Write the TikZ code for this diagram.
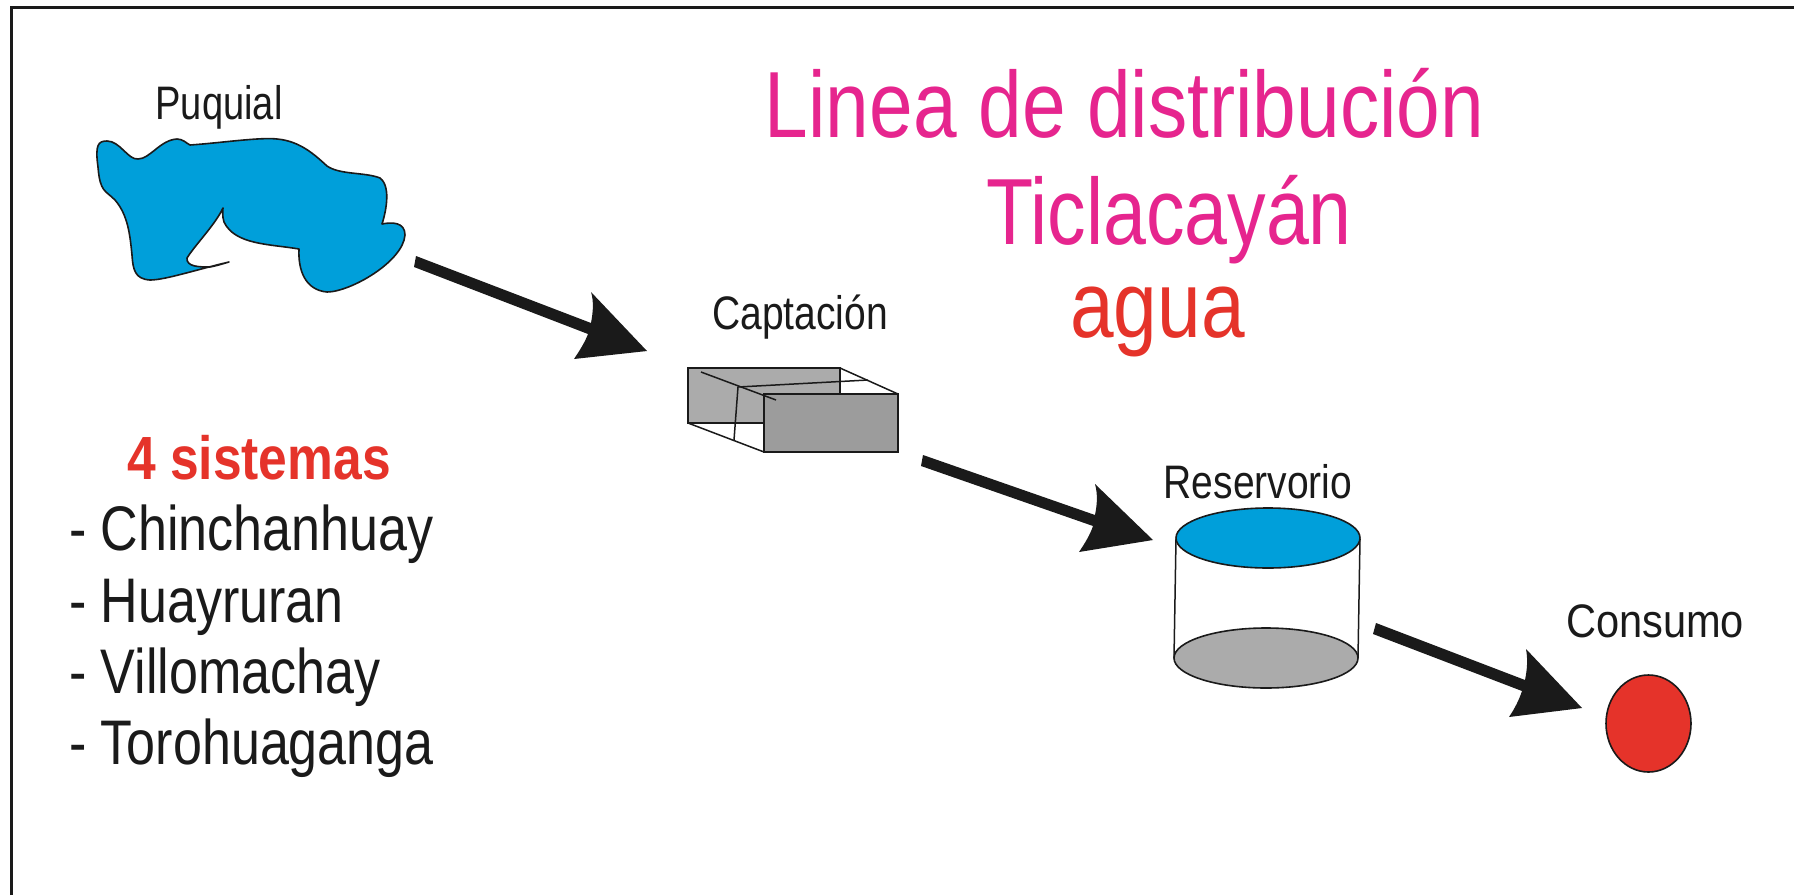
\documentclass[tikz,border=0pt]{standalone}
\usepackage{fontspec}
\setmainfont{Liberation Sans}
\definecolor{blueW}{HTML}{009FDA}
\definecolor{redW}{HTML}{E5332A}
\definecolor{pinkW}{HTML}{E6258E}
\definecolor{darkK}{HTML}{1A1A1A}
\definecolor{greyA}{HTML}{ABABAB}
\definecolor{greyB}{HTML}{9C9C9C}
\tikzset{
  lbl/.style={inner sep=0pt,anchor=base,text=darkK,font=\fontsize{47}{47}\selectfont},
  big/.style={inner sep=0pt,text=darkK,xscale=.826,font=\fontsize{63}{63}\selectfont,anchor=base west},
  title/.style={inner sep=0pt,anchor=base,xscale=.834,font=\fontsize{94}{94}\selectfont},
  outl/.style={draw=darkK,line width=1.6pt,line join=round},
  thin/.style={draw=darkK,line width=1.5pt},
  arrowshape/.style={fill=darkK,draw=none},
}
\begin{document}
\begin{tikzpicture}[x=1pt,y=-1pt]
\useasboundingbox (0,0) rectangle (1794,895);
\fill[white] (0,0) rectangle (1794,895);
\draw[darkK,line width=3pt] (11,895) -- (11,7) -- (1794,7);
% Puquial
\draw[outl,fill=blueW] (98,167)
 .. controls (95,145) and (98,141) .. (107,141)
 .. controls (120,141) and (128,160) .. (138,159)
 .. controls (150,159) and (160,140) .. (177,139)
 .. controls (183,139) and (186,143) .. (190,145)
 .. controls (220,143) and (260,137) .. (277,139)
 .. controls (300,141) and (315,155) .. (327,166)
 .. controls (340,175) and (365,172) .. (380,178)
 .. controls (392,187) and (385,215) .. (382,224)
 .. controls (392,222) and (405,222) .. (405,235)
 .. controls (403,262) and (350,292) .. (327,292)
 .. controls (305,290) and (298,270) .. (299,249)
 .. controls (270,244) and (235,245) .. (224,222)
 .. controls (222,216) and (223,210) .. (223,208)
 .. controls (215,225) and (195,245) .. (187,258)
 .. controls (186,267) and (200,267) .. (210,267)
 .. controls (220,265) and (225,263) .. (229,262)
 .. controls (195,270) and (165,280) .. (150,280)
 .. controls (135,279) and (133,270) .. (132,255)
 .. controls (130,235) and (128,215) .. (115,200)
 .. controls (105,190) and (100,192) .. (98,167) -- cycle;
\node[lbl,xscale=.81] (puq) at (219,119) {Puquial};
% title
\node[title,text=pinkW] (t1) at (1124.5,137) {Linea de distribución};
\node[title,text=pinkW,xscale=.984] (t2) at (1169,244) {Ticlacayán};
\node[title,text=redW] (t3) at (1157.5,337) {agua};
% captacion
\node[lbl,xscale=.83] (cap) at (800,329) {Captación};
\draw[thin,fill=greyA] (688,368) rectangle (840,423);
\fill[white] (688,423) -- (764,452) -- (764,423) -- cycle;
\fill[white] (840,368) -- (898,394) -- (840,394) -- cycle;
\draw[thin] (688,368) rectangle (840,423);
\draw[thin] (688,423) -- (764,452);
\draw[thin] (840,368) -- (898,394);
\draw[thin] (734,440) -- (738,387) -- (868,380);
\draw[thin,fill=greyB] (764,394) rectangle (898,452);
\draw[thin] (701,372) -- (776,400);
% reservorio
\node[lbl,xscale=.83] (res) at (1258,498) {Reservorio};
\draw[thin] (1176,539) -- (1174,658) (1360,539) -- (1358,658);
\draw[outl,fill=greyA] (1266,658) ellipse [x radius=92,y radius=30];
\draw[outl,fill=blueW] (1268,538) ellipse [x radius=92,y radius=30];
% consumo
\node[lbl,xscale=.885] (con) at (1655,637) {Consumo};
\draw[outl,fill=redW] (1648.5,723.5) ellipse [x radius=42.5,y radius=48.5];
% arrows
\fill[arrowshape] (416,256) -- (591,323) .. controls (593,312) and (594,302) .. (591,292) -- (647,351) -- (574,359) .. controls (580,350) and (585,342) .. (588,334) -- (414,267) -- cycle;
\fill[arrowshape] (923,455) -- (1095,515) .. controls (1097,505) and (1098,495) .. (1095,484) -- (1153,540) -- (1079,552) .. controls (1085,543) and (1090,535) .. (1093,526) -- (921,466) -- cycle;
\fill[arrowshape] (1376,623) -- (1525,680) .. controls (1527,670) and (1528,660) .. (1526,649) -- (1582,708) -- (1509,717) .. controls (1515,708) and (1519,700) .. (1522,691) -- (1373,634) -- cycle;
% list
\node[inner sep=0pt,anchor=base,text=redW,xscale=.845,font=\fontsize{61}{61}\selectfont\bfseries] (sis) at (259,479) {4 sistemas};
\node[big] (a) at (69,550) {- Chinchanhuay};
\node[big] (b) at (69,622) {- Huayruran};
\node[big] (c) at (69,693) {- Villomachay};
\node[big] (d) at (69,764) {- Torohuaganga};
\end{tikzpicture}
\end{document}
